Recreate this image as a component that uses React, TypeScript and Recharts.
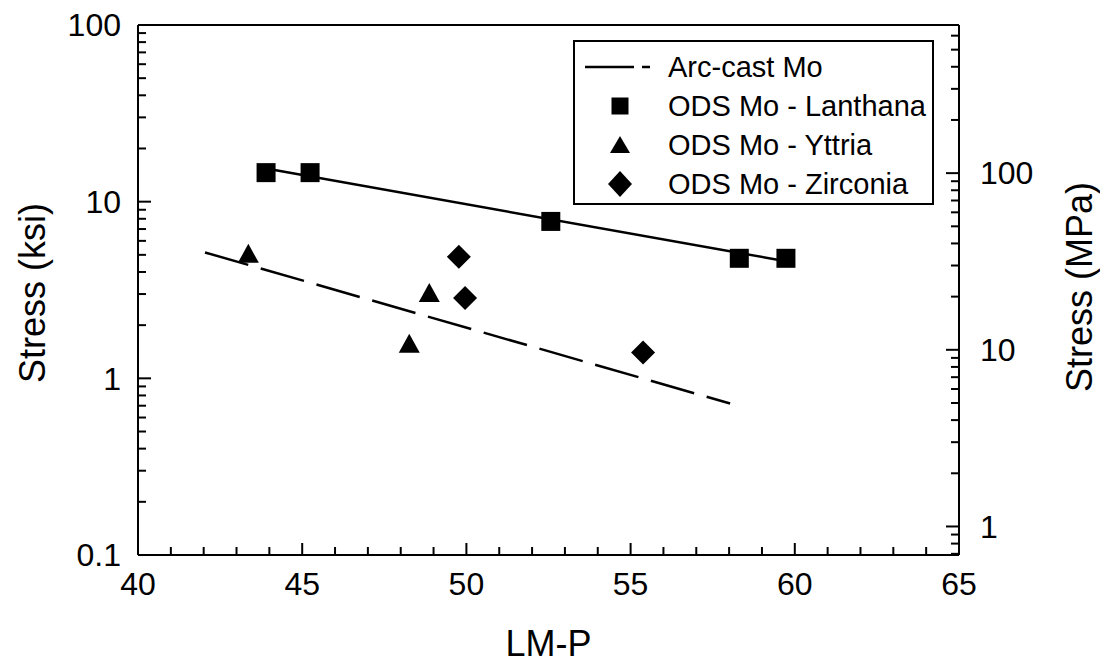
import React from "react";
import { ComposedChart, XAxis, YAxis, Line, Scatter, ReferenceLine, Legend, Label } from "recharts";

// LM-P axis ticks (every integer, labels every 5)
const lmpTicks = [40, 41, 42, 43, 44, 45, 46, 47, 48, 49, 50, 51, 52, 53, 54, 55, 56, 57, 58, 59, 60, 61, 62, 63, 64, 65];
const ksiTicks = [
  0.1, 0.2, 0.3, 0.4, 0.5, 0.6, 0.7, 0.8, 0.9,
  1, 2, 3, 4, 5, 6, 7, 8, 9,
  10, 20, 30, 40, 50, 60, 70, 80, 90, 100,
];
const mpaTicks = [
  0.7, 0.8, 0.9,
  1, 2, 3, 4, 5, 6, 7, 8, 9,
  10, 20, 30, 40, 50, 60, 70, 80, 90,
  100, 200, 300, 400, 500, 600,
];
const ksiDomain = [0.1, 100];
const mpaDomain = [0.68948, 689.48]; // same span as ksi, 1 ksi = 6.8948 MPa

// measured points, stress in ksi
const lanthana = [
  { x: 43.9, y: 14.6 },
  { x: 45.24, y: 14.6 },
  { x: 52.57, y: 7.73 },
  { x: 58.31, y: 4.78 },
  { x: 59.73, y: 4.78 },
];
const yttria = [
  { x: 43.36, y: 5.0 },
  { x: 48.87, y: 3.0 },
  { x: 48.26, y: 1.55 },
];
const zirconia = [
  { x: 49.77, y: 4.87 },
  { x: 49.96, y: 2.85 },
  { x: 55.38, y: 1.4 },
];
// fitted lines
const arcCastFit = [
  { x: 42.04, y: 5.16 },
  { x: 58.03, y: 0.72 },
];
const lanthanaFit = [
  { x: 43.9, y: 15.4 },
  { x: 59.73, y: 4.6 },
];

const legendItems = ["Arc-cast Mo", "ODS Mo - Lanthana", "ODS Mo - Yttria", "ODS Mo - Zirconia"];

const FONT = "'Liberation Sans', Arial, sans-serif";
const tickText = { fontFamily: FONT, fontSize: 32, fill: "#000" };

const isDecade = (v: number) => Math.abs(Math.log10(v) - Math.round(Math.log10(v))) < 1e-6;

const BottomTick = (props: any) => {
  const { x, y, payload } = props;
  const v = payload.value;
  const major = v % 5 === 0;
  return (
    <g>
      <line x1={x} x2={x} y1={y} y2={y - (major ? 12 : 8)} stroke="#000" strokeWidth={2} />
      {major && (
        <text x={x} y={y + 40} textAnchor="middle" style={tickText}>
          {v}
        </text>
      )}
    </g>
  );
};

const LeftTick = (props: any) => {
  const { x, y, payload } = props;
  const v = payload.value;
  const major = isDecade(v);
  return (
    <g>
      <line x1={x} x2={x + (major ? 13 : 8)} y1={y} y2={y} stroke="#000" strokeWidth={2} />
      {major && (
        <text x={x - 17} y={y} dy="0.35em" textAnchor="end" style={tickText}>
          {String(v)}
        </text>
      )}
    </g>
  );
};

const RightTick = (props: any) => {
  const { x, y, payload } = props;
  const v = payload.value;
  const major = isDecade(v);
  return (
    <g>
      <line x1={x} x2={x - (major ? 13 : 8)} y1={y} y2={y} stroke="#000" strokeWidth={2} />
      {major && (
        <text x={x + 21} y={y} dy="0.35em" textAnchor="start" style={tickText}>
          {String(v)}
        </text>
      )}
    </g>
  );
};

const titleStyle = { fontFamily: FONT, fontSize: 36, fill: "#000" };

const leftTitle = (p: any) => {
  const vb = p.viewBox;
  const cx = vb.x + 32;
  const cy = vb.y + vb.height / 2 + 3;
  return (
    <text x={cx} y={cy} dy="0.35em" textAnchor="middle" transform={`rotate(-90 ${cx} ${cy})`} style={titleStyle}>
      Stress (ksi)
    </text>
  );
};

const rightTitle = (p: any) => {
  const vb = p.viewBox;
  const cx = vb.x + 120;
  const cy = vb.y + vb.height / 2 - 3;
  return (
    <text x={cx} y={cy} dy="0.35em" textAnchor="middle" transform={`rotate(-90 ${cx} ${cy})`} style={titleStyle}>
      Stress (MPa)
    </text>
  );
};

const bottomTitle = (p: any) => {
  const vb = p.viewBox;
  return (
    <text x={vb.x + vb.width / 2} y={vb.y + 88} dy="0.35em" textAnchor="middle" style={titleStyle}>
      LM-P
    </text>
  );
};

const squareShape = (p: any) => <rect x={p.cx - 9.5} y={p.cy - 9.5} width={19} height={19} fill="#000" />;
const triangleShape = (p: any) => (
  <polygon points={`${p.cx},${p.cy - 11} ${p.cx - 10.5},${p.cy + 8} ${p.cx + 10.5},${p.cy + 8}`} fill="#000" />
);
const diamondShape = (p: any) => (
  <polygon points={`${p.cx},${p.cy - 12} ${p.cx + 12},${p.cy} ${p.cx},${p.cy + 12} ${p.cx - 12},${p.cy}`} fill="#000" />
);

const LegendSymbol = ({ i }: { i: number }) => {
  const cx = 45;
  const cy = 19;
  if (i === 0) {
    return <line x1={10} x2={76} y1={cy} y2={cy} stroke="#000" strokeWidth={2.5} strokeDasharray="49 8 8 100" />;
  }
  if (i === 1) return <rect x={cx - 8.5} y={cy - 8.5} width={17} height={17} fill="#000" />;
  if (i === 2) return <polygon points={`${cx},${cy - 9} ${cx - 10},${cy + 8} ${cx + 10},${cy + 8}`} fill="#000" />;
  return <polygon points={`${cx},${cy - 13} ${cx + 12},${cy} ${cx},${cy + 13} ${cx - 12},${cy}`} fill="#000" />;
};

const renderLegend = () => (
  <div
    style={{
      boxSizing: "border-box",
      width: 361,
      height: 165,
      border: "2px solid #000",
      background: "#fff",
      paddingTop: 6,
    }}
  >
    {legendItems.map((name, i) => (
      <div key={name} style={{ display: "flex", alignItems: "center", height: 39 }}>
        <svg width={93} height={39} style={{ flex: "none" }}>
          <LegendSymbol i={i} />
        </svg>
        <span style={{ fontFamily: FONT, fontSize: 29, color: "#000", whiteSpace: "nowrap", lineHeight: "39px" }}>
          {name}
        </span>
      </div>
    ))}
  </div>
);

export default function App() {
  return (
    <div style={{ position: "absolute", left: 0, top: 0, width: 1100, height: 664, background: "#fff" }}>
      <ComposedChart width={1100} height={664} margin={{ top: 25, right: 0, bottom: 0, left: 0 }}>
        <XAxis
          type="number"
          dataKey="x"
          domain={[40, 65]}
          ticks={lmpTicks}
          interval={0}
          allowDataOverflow
          height={109}
          tickSize={0}
          tickMargin={0}
          tickLine={false}
          axisLine={{ stroke: "#000", strokeWidth: 2 }}
          tick={<BottomTick />}
        >
          <Label content={bottomTitle} />
        </XAxis>
        <YAxis
          yAxisId="ksi"
          orientation="left"
          type="number"
          scale="log"
          domain={ksiDomain}
          ticks={ksiTicks}
          interval={0}
          allowDataOverflow
          width={138}
          tickSize={0}
          tickMargin={0}
          tickLine={false}
          axisLine={{ stroke: "#000", strokeWidth: 2 }}
          tick={<LeftTick />}
        >
          <Label content={leftTitle} />
        </YAxis>
        <YAxis
          yAxisId="mpa"
          orientation="right"
          type="number"
          scale="log"
          domain={mpaDomain}
          ticks={mpaTicks}
          interval={0}
          allowDataOverflow
          width={141}
          tickSize={0}
          tickMargin={0}
          tickLine={false}
          axisLine={{ stroke: "#000", strokeWidth: 2 }}
          tick={<RightTick />}
        >
          <Label content={rightTitle} />
        </YAxis>
        <ReferenceLine yAxisId="ksi" y={100} stroke="#000" strokeWidth={2} />
        <Line
          yAxisId="ksi"
          data={arcCastFit}
          dataKey="y"
          stroke="#000"
          strokeWidth={2.5}
          strokeDasharray="45 13"
          dot={false}
          activeDot={false}
          isAnimationActive={false}
        />
        <Line
          yAxisId="ksi"
          data={lanthanaFit}
          dataKey="y"
          stroke="#000"
          strokeWidth={2.5}
          dot={false}
          activeDot={false}
          isAnimationActive={false}
        />
        <Scatter yAxisId="ksi" data={lanthana} dataKey="y" shape={squareShape} isAnimationActive={false} />
        <Scatter yAxisId="ksi" data={yttria} dataKey="y" shape={triangleShape} isAnimationActive={false} />
        <Scatter yAxisId="ksi" data={zirconia} dataKey="y" shape={diamondShape} isAnimationActive={false} />
        <Legend
          layout="vertical"
          align="center"
          verticalAlign="middle"
          content={renderLegend}
          wrapperStyle={{ left: 573, top: 40, width: 361, height: 165 }}
        />
      </ComposedChart>
    </div>
  );
}
